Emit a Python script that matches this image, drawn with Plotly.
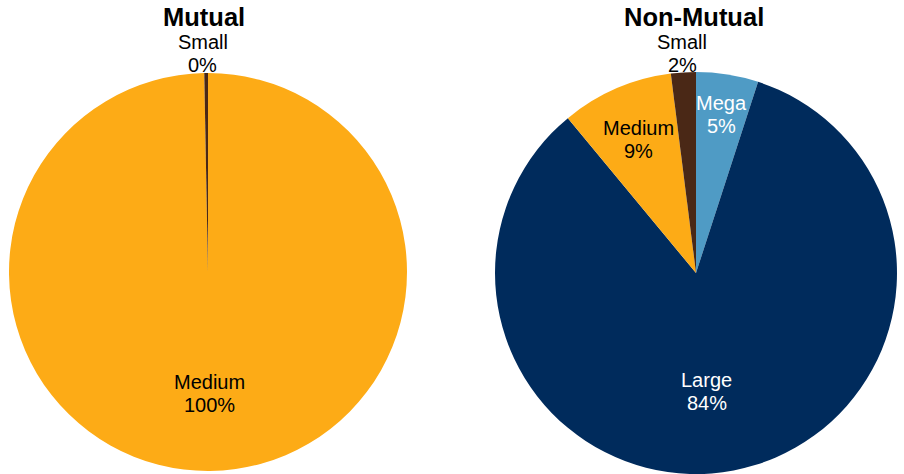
import math
import plotly.graph_objects as go

colors = {"Mega": "#4F9BC5", "Large": "#002B5C", "Medium": "#FDAB16", "Small": "#4A2816"}
text_colors = {"Mega": "white", "Large": "white", "Medium": "black", "Small": "black"}

mutual_labels = ["Medium", "Small"]
mutual_values = [99.7, 0.3]

nonmutual_labels = ["Mega", "Large", "Medium", "Small"]
nonmutual_values = [5, 84, 9, 2]

titles = ["Mutual", "Non-Mutual"]

W, H = 904, 474
FONT = "Liberation Sans, Arial, sans-serif"
LABEL_SIZE = 20
LINE_GAP = 23

# pie geometry (pixels): center x, center y, radius; label radial factors and small x nudges
pies = [
    dict(title=titles[0], labels=mutual_labels, values=mutual_values, cx=208, cy=272, r=199, tx=204,
         rf={"Medium": 0.61, "Small": 1.10}, nx={"Small": -3}),
    dict(title=titles[1], labels=nonmutual_labels, values=nonmutual_values, cx=696, cy=273, r=201, tx=694,
         rf={"Mega": 0.80, "Large": 0.60, "Medium": 0.725, "Small": 1.095}, nx={"Large": -12}),
]

fig = go.Figure()
for p in pies:
    cx, cy, r = p["cx"], p["cy"], p["r"]
    fig.add_trace(go.Pie(
        labels=p["labels"], values=p["values"], sort=False, direction="clockwise", rotation=0,
        marker=dict(colors=[colors[l] for l in p["labels"]], line=dict(width=0)),
        textinfo="none", showlegend=False, hoverinfo="label+percent",
        domain=dict(x=[(cx - r) / W, (cx + r) / W], y=[1 - (cy + r) / H, 1 - (cy - r) / H]),
    ))
    total = sum(p["values"])
    cum = 0.0
    for lab, v in zip(p["labels"], p["values"]):
        mid = (cum + v / 2) / total * 2 * math.pi
        cum += v
        rr = p["rf"][lab] * r
        px = cx + rr * math.sin(mid) + p["nx"].get(lab, 0)
        py = cy - rr * math.cos(mid)
        pct = "%d%%" % round(100 * v / total)
        for txt, dy in ((lab, -LINE_GAP / 2), (pct, LINE_GAP / 2)):
            fig.add_annotation(text=txt, x=px / W, y=1 - (py + dy) / H, xref="paper", yref="paper",
                               showarrow=False, xanchor="center", yanchor="middle",
                               font=dict(family=FONT, size=LABEL_SIZE, color=text_colors[lab]))
    fig.add_annotation(text="<b>%s</b>" % p["title"], x=p["tx"] / W, y=1 - 17 / H,
                       xref="paper", yref="paper", showarrow=False, xanchor="center", yanchor="middle",
                       font=dict(family=FONT, size=25.5, color="black"))

fig.update_layout(width=W, height=H, margin=dict(l=0, r=0, t=0, b=0),
                  paper_bgcolor="white", plot_bgcolor="white")
fig.write_html("out.html")
